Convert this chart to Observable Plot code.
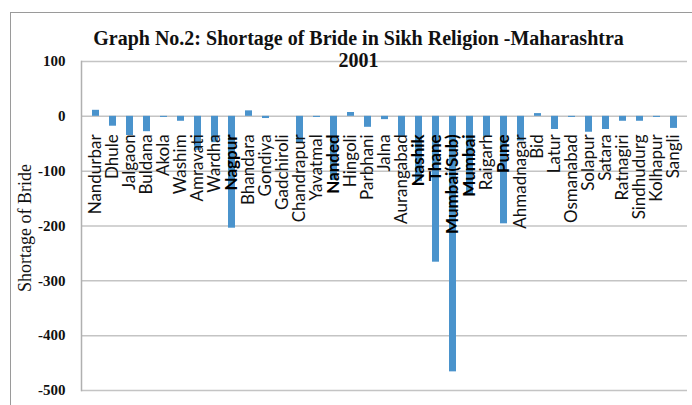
<!DOCTYPE html>
<html><head><meta charset="utf-8">
<script src="https://cdn.jsdelivr.net/npm/d3@7"></script>
<script src="https://cdn.jsdelivr.net/npm/@observablehq/plot@0.6"></script>
<style>
body{margin:0;background:#fff}
#wrap{position:relative;width:692px;height:405px;overflow:hidden}
#border{position:absolute;left:10px;top:12px;width:700px;height:420px;border-left:1.5px solid #9a9a9a;border-top:1.5px solid #9a9a9a;pointer-events:none}
svg{display:block}
</style>
</head><body><div id="wrap"><div id="border"></div></div>
<script>
const districts = ["Nandurbar","Dhule","Jalgaon","Buldana","Akola","Washim","Amravati","Wardha","Nagpur","Bhandara","Gondiya","Gadchiroli","Chandrapur","Yavatmal","Nanded","Hingoli","Parbhani","Jalna","Aurangabad","Nashik","Thane","Mumbai(Sub)","Mumbai","Raigarh","Pune","Ahmadnagar","Bid","Latur","Osmanabad","Solapur","Satara","Ratnagiri","Sindhudurg","Kolhapur","Sangli"];
const shortage = [11,-18,-35,-28,-2,-9,-62,-48,-204,10,-4,0,-49,-2,-117,7,-20,-6,-38,-119,-266,-466,-143,-38,-196,-45,5,-24,-2,-29,-24,-9,-9,-2,-22];
const yTicks = [100,0,-100,-200,-300,-400,-500];
const titleLine1 = "Graph No.2: Shortage of Bride in Sikh Religion -Maharashtra";
const titleLine2 = "2001";
const yLabel = "Shortage of Bride";

const data = districts.map((d, i) => ({district: d, value: shortage[i]}));
const serif = "Liberation Serif";

const plot = Plot.plot({
  width: 692, height: 405,
  marginLeft: 81, marginRight: 5, marginTop: 61, marginBottom: 15,
  style: {background: "transparent", fontFamily: "Lato", overflow: "visible"},
  x: {domain: districts, paddingInner: 0.6, paddingOuter: 0.3, axis: null},
  y: {domain: [-500, 100], axis: null},
  marks: [
    Plot.ruleY(yTicks, {stroke: "#c4c4c4", strokeWidth: 1.5}),
    Plot.frame({anchor: "left", stroke: "#b0b0b0", strokeWidth: 1.5}),
    Plot.barY(data, {x: "district", y: "value", fill: "#4a93cc"}),
    Plot.text(data, {filter: d => d.value > -100, x: "district", y: () => 0, text: "district", rotate: -90, textAnchor: "end", dy: 18, fontSize: 17, fontFamily: "Lato", fill: "#111"}),
    Plot.text(data, {filter: d => d.value <= -100, x: "district", y: () => 0, text: "district", rotate: -90, textAnchor: "end", dy: 18, fontSize: 17, fontFamily: "Lato", fontWeight: "bold", fill: "#000"}),
    Plot.axisY(yTicks, {tickSize: 0, tickPadding: 16, label: null, tickFormat: d => String(d), fontFamily: serif, fontWeight: "bold", fontSize: 15, fill: "#111"}),
    Plot.text([yLabel], {frameAnchor: "left", textAnchor: "middle", rotate: -90, dx: -56, dy: 2, text: d => d, fontFamily: serif, fontSize: 18, fill: "#111"}),
    Plot.text([titleLine1], {frameAnchor: "top", dx: -26, dy: -23, text: d => d, lineAnchor: "middle", fontFamily: serif, fontWeight: "bold", fontSize: 20, fill: "#111"}),
    Plot.text([titleLine2], {frameAnchor: "top", dx: -26, dy: -1, text: d => d, lineAnchor: "middle", fontFamily: serif, fontWeight: "bold", fontSize: 20, fill: "#111"})
  ]
});
document.getElementById("wrap").prepend(plot);
</script>
</body></html>
